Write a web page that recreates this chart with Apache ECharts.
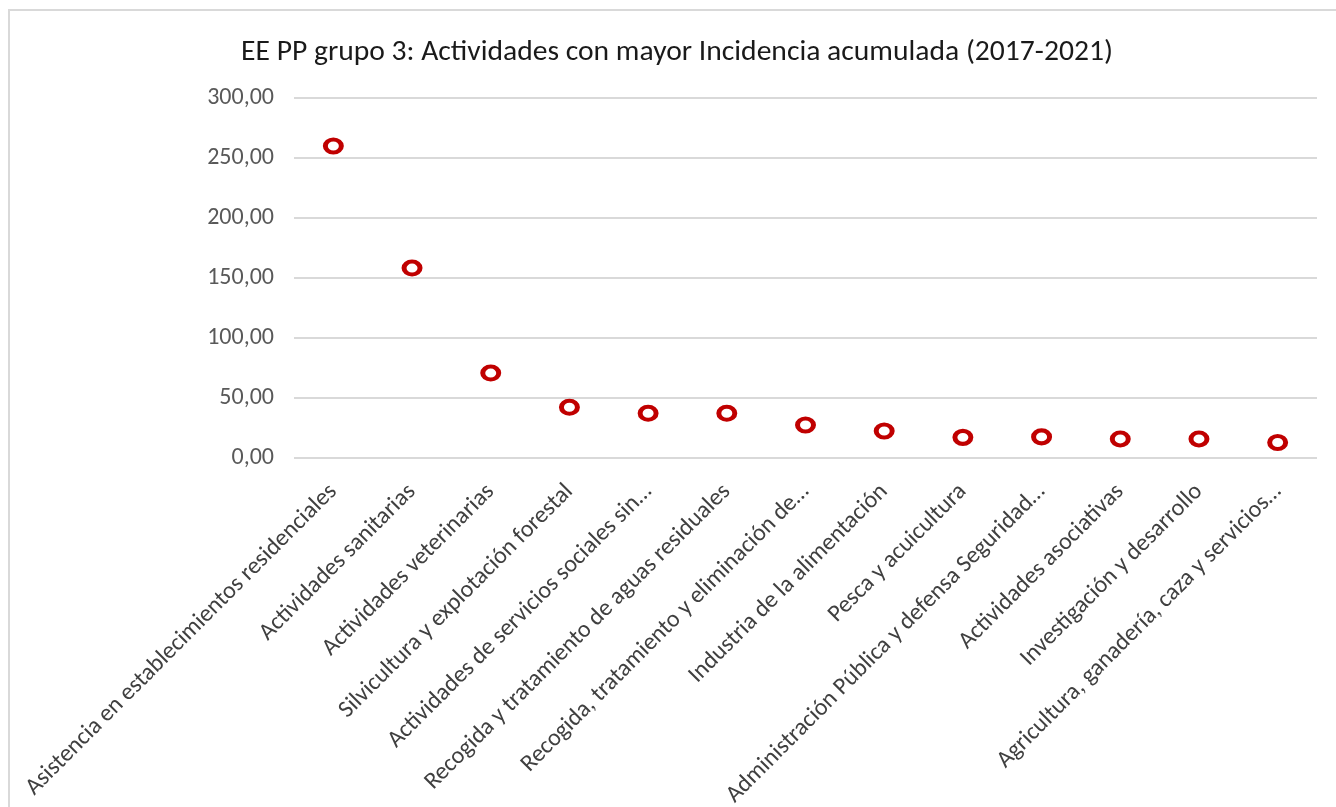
<!DOCTYPE html>
<html>
<head>
<meta charset="utf-8">
<script src="https://cdn.jsdelivr.net/npm/echarts@6/dist/echarts.min.js"></script>
<style>
  html, body { margin: 0; padding: 0; background: #fff; }
  #wrap { position: relative; width: 1336px; height: 807px; overflow: hidden; }
  /* marco gris del gráfico (sólo se ven arriba e izquierda) */
  #frame {
    position: absolute; left: 8px; top: 9px; width: 1400px; height: 900px;
    border: 2px solid #d9d9d9; box-sizing: border-box;
  }
  #chart { position: absolute; left: 0; top: 0; width: 1336px; height: 807px; }
</style>
</head>
<body>
<div id="wrap">
  <div id="frame"></div>
  <div id="chart"></div>
</div>
<script>
// actividades (etiquetas tal como salen en el eje)
const categories = [
  "Asistencia en establecimientos residenciales",
  "Actividades sanitarias",
  "Actividades veterinarias",
  "Silvicultura y explotación forestal",
  "Actividades de servicios sociales sin…",
  "Recogida y tratamiento de aguas residuales",
  "Recogida, tratamiento y eliminación de…",
  "Industria de la alimentación",
  "Pesca y acuicultura",
  "Administración Pública y defensa Seguridad…",
  "Actividades asociativas",
  "Investigación y desarrollo",
  "Agricultura, ganadería, caza y servicios…"
];

// incidencia acumulada
const incidencia = [260, 158.3, 70.8, 42.3, 37.3, 37.3, 27.5, 22.5, 17.2, 17.6, 15.9, 15.9, 12.9];

const yMin = 0, yMax = 300, yStep = 50;

const fontFamily = "Carlito, 'Liberation Sans Narrow', 'Open Sans', sans-serif";

const chart = echarts.init(document.getElementById("chart"));

chart.setOption({
  backgroundColor: "transparent",
  animation: false,
  title: {
    text: "EE PP grupo 3: Actividades con mayor Incidencia acumulada (2017-2021)",
    left: 672,
    textAlign: "center",
    top: 33,
    textStyle: { fontFamily: fontFamily, fontSize: 29.6, fontWeight: "normal", color: "#1a1a1a" }
  },
  grid: { left: 294, right: 19, top: 98, bottom: 349, containLabel: false, outerBoundsMode: "none" },
  xAxis: {
    type: "category",
    data: categories,
    boundaryGap: true,
    axisLine: { show: false },
    axisTick: { show: false },
    axisLabel: {
      interval: 0,
      rotate: 45,
      margin: 30,
      fontFamily: fontFamily,
      fontSize: 24,
      color: "#404040"
    }
  },
  yAxis: {
    type: "value",
    min: yMin,
    max: yMax,
    interval: yStep,
    axisLine: { show: false },
    axisTick: { show: false },
    axisLabel: {
      margin: 20,
      fontFamily: fontFamily,
      fontSize: 24,
      color: "#595959",
      formatter: (v) => v.toFixed(2).replace(".", ",")
    },
    splitLine: { lineStyle: { color: "#d9d9d9", width: 2 } }
  },
  series: [
    {
      type: "scatter",
      data: incidencia,
      symbol: "circle",
      symbolSize: [16, 13],
      itemStyle: { color: "#ffffff", borderColor: "#c00000", borderWidth: 4.5, opacity: 1 }
    }
  ]
});
</script>
</body>
</html>
